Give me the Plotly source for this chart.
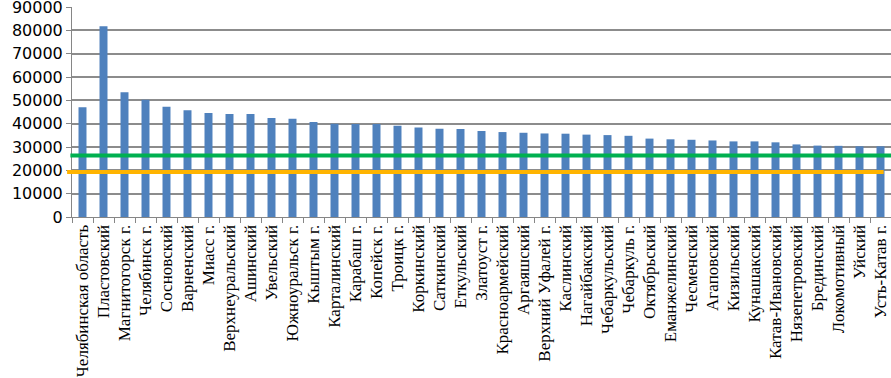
import plotly.graph_objects as go

categories = [
    "Челябинская область", "Пластовский", "Магнитогорск г.", "Челябинск г.",
    "Сосновский", "Варненский", "Миасс г.", "Верхнеуральский", "Ашинский",
    "Увельский", "Южноуральск г.", "Кыштым г.", "Карталинский", "Карабаш г.",
    "Копейск г.", "Троицк г.", "Коркинский", "Саткинский", "Еткульский",
    "Златоуст г.", "Красноармейский", "Аргаяшский", "Верхний Уфалей г.",
    "Каслинский", "Нагайбакский", "Чебаркульский", "Чебаркуль г.", "Октябрьский",
    "Еманжелинский", "Чесменский", "Агаповский", "Кизильский", "Кунашакский",
    "Катав-Ивановский", "Нязепетровский", "Брединский", "Локомотивный",
    "Уйский", "Усть-Катав г.",
]

values = [
    47000, 81700, 53500, 50300, 47300, 45700, 44600, 44100, 44100, 42400,
    42100, 40700, 40000, 39900, 39850, 39100, 38400, 37800, 37700, 36900,
    36400, 36100, 35800, 35700, 35300, 35100, 34800, 33600, 33300, 33100,
    32800, 32400, 32400, 32000, 31100, 30600, 30500, 30300, 30300,
]

green_level = 26400
orange_level = 19300

y_ticks = [0, 10000, 20000, 30000, 40000, 50000, 60000, 70000, 80000, 90000]

fig = go.Figure()
fig.add_trace(go.Bar(
    x=categories, y=values,
    marker=dict(color="#4F81BD", line=dict(width=0)),
    showlegend=False,
))

fig.add_shape(type="line", xref="paper", yref="y",
              x0=-0.002, x1=1.0, y0=green_level, y1=green_level,
              line=dict(color="#00B050", width=4), layer="above")
fig.add_shape(type="line", xref="paper", yref="y",
              x0=-0.006, x1=0.991, y0=orange_level, y1=orange_level,
              line=dict(color="#FFB400", width=4), layer="above")

fig.update_layout(
    width=891, height=378,
    margin=dict(l=72, r=0, t=7, b=161),
    paper_bgcolor="white", plot_bgcolor="white",
    bargap=0.62,
    xaxis=dict(
        type="category",
        tickangle=-90,
        tickfont=dict(family="Liberation Serif", size=17, color="black"),
        showline=True, linecolor="#868686", linewidth=1,
        ticks="outside", ticklen=5, tickcolor="#868686",
        tickson="boundaries",
        showgrid=False,
        automargin=False,
        ticklabeloverflow="allow",
    ),
    yaxis=dict(
        range=[0, 90000],
        tickvals=y_ticks,
        ticktext=[str(v) for v in y_ticks],
        tickfont=dict(family="DejaVu Sans", size=16, color="black"),
        showline=True, linecolor="#868686", linewidth=1,
        ticks="outside", ticklen=5, tickcolor="#868686",
        showgrid=True, gridcolor="#8C8C8C", gridwidth=1.5,
        zeroline=False,
        automargin=False,
        ticklabeloverflow="allow",
    ),
)

fig.write_html(
    "out.html",
    config={"displayModeBar": False},
    post_script="document.body.style.margin='0';document.body.style.overflow='hidden';",
)
